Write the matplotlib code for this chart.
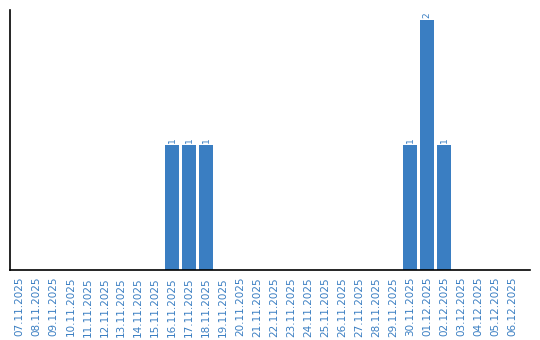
import matplotlib
matplotlib.use("Agg")
import matplotlib.pyplot as plt

dates = ["07.11.2025", "08.11.2025", "09.11.2025", "10.11.2025", "11.11.2025",
         "12.11.2025", "13.11.2025", "14.11.2025", "15.11.2025", "16.11.2025",
         "17.11.2025", "18.11.2025", "19.11.2025", "20.11.2025", "21.11.2025",
         "22.11.2025", "23.11.2025", "24.11.2025", "25.11.2025", "26.11.2025",
         "27.11.2025", "28.11.2025", "29.11.2025", "30.11.2025", "01.12.2025",
         "02.12.2025", "03.12.2025", "04.12.2025", "05.12.2025", "06.12.2025"]
counts = [0, 0, 0, 0, 0, 0, 0, 0, 0, 1,
          1, 1, 0, 0, 0, 0, 0, 0, 0, 0,
          0, 0, 0, 1, 2, 1, 0, 0, 0, 0]

blue = "#3a7ec2"
fig = plt.figure(figsize=(5.4, 3.4), dpi=100)
ax = fig.add_axes([10/540, 70/340, 520/540, 260/340])
x = list(range(len(dates)))
bars = ax.bar(x, counts, width=0.82, color=blue)
for xi, v in zip(x, counts):
    if v > 0:
        ax.text(xi, v + 0.02, str(v), rotation=90, ha="center", va="bottom",
                fontsize=6.5, color=blue)
ax.set_xlim(-0.55, len(dates) + 0.05)
ax.set_ylim(0, 2.08)
ax.set_xticks(x)
ax.set_xticklabels(dates, rotation=90, fontsize=7.5, color=blue)
ax.tick_params(axis="x", length=0, pad=5)
ax.set_yticks([])
ax.spines["top"].set_visible(False)
ax.spines["right"].set_visible(False)
ax.spines["left"].set_linewidth(1.2)
ax.spines["bottom"].set_linewidth(1.2)
fig.savefig("out.png", dpi=100)
